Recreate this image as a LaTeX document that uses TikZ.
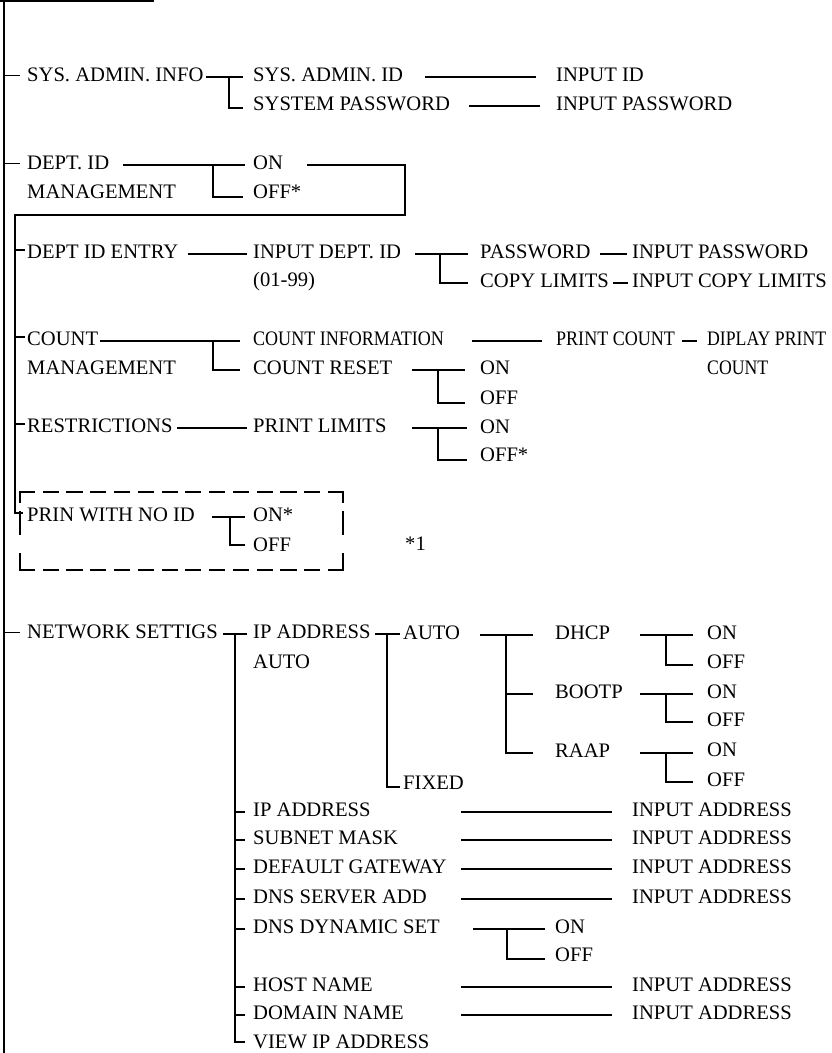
\documentclass[tikz,border=0pt]{standalone}
\usepackage{fontspec}
\setmainfont{Liberation Serif}
\newfontfamily\condfont[FakeStretch=0.875]{Liberation Serif}
\newfontfamily\condfontb[FakeStretch=0.86]{Liberation Serif}
\usetikzlibrary{calc}
\newcommand\hconn[4]{\draw[ln] ($(#2.west|-#1.east)+(-#3,0)$) -- ($(#2.west|-#1.east)+(-#4,0)$);}
\newcommand\elbowc[5]{\draw[ln] ($(#1.west)+(-#3,0)$) |- ($(#2.west)+(-#4,#5)$);}
\begin{document}
\begin{tikzpicture}[x=1pt,y=-1pt,
  ln/.style={line width=1.1pt},
  dbox/.style={line width=2.2pt,line cap=rect},
  txt/.style={anchor=west,inner sep=0pt,text height=11.5pt,text depth=2pt,font=\fontsize{20.6}{24}\selectfont},
  ctxt/.style={txt,font=\condfont\fontsize{20.6}{24}\selectfont},
  cbtxt/.style={txt,font=\condfontb\fontsize{20.6}{24}\selectfont}]
\useasboundingbox (0,0) rectangle (831,1053);
% fixed points
\coordinate (mT) at (4,0);
\coordinate (mB) at (4,1053);
\coordinate (tl) at (0,1);
\coordinate (tr) at (154,1);
\coordinate (lr) at (405,215);
\coordinate (ll) at (15,215);
\coordinate (ax) at (461,0);
% text nodes
\node[txt] (sai) at (27,77) {SYS. ADMIN. INFO};
\node[txt] (sid) at (253,77) {SYS. ADMIN. ID};
\node[txt] (spw) at (253,106) {SYSTEM PASSWORD};
\node[txt] (iid) at (556,77) {INPUT ID};
\node[txt] (ipw) at (556,106) {INPUT PASSWORD};
\node[txt] (dept) at (27,165) {DEPT. ID};
\node[txt] (mgmt) at (27,194) {MANAGEMENT};
\node[txt] (don) at (253,165) {ON};
\node[txt] (doff) at (253,194) {OFF*};
\node[txt] (die) at (27,254) {DEPT ID ENTRY};
\node[txt] (idid) at (253,254) {INPUT DEPT. ID};
\node[txt] (rng) at (253,282) {(01-99)};
\node[txt] (pw) at (480,254) {PASSWORD};
\node[txt] (cl) at (480,283) {COPY LIMITS};
\node[txt] (ipw2) at (632,254) {INPUT PASSWORD};
\node[txt] (icl) at (632,283) {INPUT COPY LIMITS};
\node[txt] (cnt) at (27,341) {COUNT};
\node[txt] (cmg) at (27,370) {MANAGEMENT};
\node[ctxt] (ci) at (253,341) {COUNT INFORMATION};
\node[txt] (cr) at (253,370) {COUNT RESET};
\node[ctxt] (pc) at (556,341) {PRINT COUNT};
\node[cbtxt] (dp) at (707,341) {DIPLAY PRINT};
\node[cbtxt] (dpc) at (707,370) {COUNT};
\node[txt] (cron) at (480,370) {ON};
\node[txt] (croff) at (480,400) {OFF};
\node[txt] (res) at (27,428) {RESTRICTIONS};
\node[txt] (pl) at (253,428) {PRINT LIMITS};
\node[txt] (plon) at (480,429) {ON};
\node[txt] (ploff) at (480,457) {OFF*};
\node[txt] (pwn) at (27,517) {PRIN WITH NO ID};
\node[txt] (pwnon) at (253,517) {ON*};
\node[txt] (pwnoff) at (253,547) {OFF};
\node[txt] (note) at (405,546) {*1};
\node[txt] (net) at (27,634) {NETWORK SETTIGS};
\node[txt] (ipa) at (253,634) {IP ADDRESS};
\node[txt] (ipauto) at (253,664) {AUTO};
\node[txt] (auto) at (403,635) {AUTO};
\node[txt] (fixed) at (403,785) {FIXED};
\node[txt] (dhcp) at (555,635) {DHCP};
\node[txt] (bootp) at (555,694) {BOOTP};
\node[txt] (raap) at (555,753) {RAAP};
\node[txt] (dhon) at (707,635) {ON};
\node[txt] (dhoff) at (707,664) {OFF};
\node[txt] (bton) at (707,694) {ON};
\node[txt] (btoff) at (707,722) {OFF};
\node[txt] (raon) at (707,752) {ON};
\node[txt] (raoff) at (707,782) {OFF};
\node[txt] (ip) at (253,812) {IP ADDRESS};
\node[txt] (iip) at (632,812) {INPUT ADDRESS};
\node[txt] (sub) at (253,840) {SUBNET MASK};
\node[txt] (isub) at (632,840) {INPUT ADDRESS};
\node[txt] (gw) at (253,869) {DEFAULT GATEWAY};
\node[txt] (igw) at (632,869) {INPUT ADDRESS};
\node[txt] (dns) at (253,899) {DNS SERVER ADD};
\node[txt] (idns) at (632,899) {INPUT ADDRESS};
\node[txt] (dyn) at (253,929) {DNS DYNAMIC SET};
\node[txt] (dynon) at (555,929) {ON};
\node[txt] (dynoff) at (555,957) {OFF};
\node[txt] (host) at (253,987) {HOST NAME};
\node[txt] (ihost) at (632,987) {INPUT ADDRESS};
\node[txt] (dom) at (253,1015) {DOMAIN NAME};
\node[txt] (idom) at (632,1015) {INPUT ADDRESS};
\node[txt] (view) at (253,1044) {VIEW IP ADDRESS};
% main lines
\draw[ln] (mT) -- (mB);
\draw[line width=1.6pt] (tl) -- (tr);
\foreach \n in {sai,dept,net}
  \draw[ln] ($(mT|-\n.west)+(0,-1.5)$) -- ($(\n.west)+(-7,-1.5)$);
% sys admin
\hconn{sai}{sid}{47}{10}
\elbowc{sid}{spw}{24}{10}{2}
\hconn{sid}{iid}{131}{20}
\hconn{spw}{ipw}{87}{16}
% dept id management
\hconn{dept}{don}{130}{8}
\elbowc{don}{doff}{40}{10}{3}
\draw[ln] ($(don.west)+(54,0)$) -| (lr) -- (ll) |- ($(pwn.west)+(-4,-4)$);
\foreach \n in {die,cnt,res}
  \draw[ln] ($(ll|-\n.west)+(0,-4)$) -- ($(\n.west)+(-2,-4)$);
% dept id entry
\hconn{die}{idid}{65}{6}
\hconn{idid}{pw}{65}{12}
\elbowc{pw}{cl}{40}{12}{0}
\hconn{pw}{ipw2}{32}{5}
\hconn{cl}{icl}{19}{4}
% count management
\hconn{cnt}{ci}{153}{13}
\elbowc{ci}{cr}{40}{13}{0}
\hconn{ci}{pc}{84}{14}
\hconn{pc}{dp}{25}{10}
\hconn{cr}{cron}{68}{15}
\elbowc{cron}{croff}{42}{15}{3}
% restrictions
\hconn{res}{pl}{76}{6}
\hconn{pl}{plon}{68}{13}
\elbowc{plon}{ploff}{42}{13}{3}
% print with no id
\hconn{pwn}{pwnon}{41}{8}
\elbowc{pwnon}{pwnoff}{23}{8}{-2}
\draw[dbox,dash pattern=on 14pt off 9.77pt] (20,492) -- (343,492);
\draw[dbox,dash pattern=on 14pt off 9.77pt] (20,570) -- (343,570);
\draw[dbox,dash pattern=on 10pt off 10pt on 22pt off 20pt on 16pt off 10pt] (20,492) -- (20,570);
\draw[dbox,dash pattern=on 10pt off 10pt on 22pt off 20pt on 16pt off 10pt] (343,492) -- (343,570);
% network settings
\hconn{net}{ipa}{30}{6}
\elbowc{ipa}{view}{18}{8}{-2}
\foreach \n in {ip,sub,gw,dns,dyn,host,dom}
  \draw[ln] ($(\n.west)+(-18,0)$) -- ($(\n.west)+(-8,0)$);
\hconn{ipa}{auto}{28}{3}
\elbowc{auto}{fixed}{16}{3}{2}
\hconn{auto}{dhcp}{75}{22}
\elbowc{dhcp}{raap}{49}{22}{0}
\draw[ln] ($(bootp.west)+(-49,0)$) -- ($(bootp.west)+(-22,0)$);
\hconn{dhcp}{dhon}{67}{14}
\elbowc{dhon}{dhoff}{41}{14}{1}
\hconn{bootp}{bton}{67}{14}
\elbowc{bton}{btoff}{41}{14}{0}
\hconn{raap}{raon}{67}{14}
\elbowc{raon}{raoff}{41}{14}{0}
\foreach \s/\t in {ip/iip,sub/isub,gw/igw,dns/idns,host/ihost,dom/idom}
  \draw[ln] (ax|-\s.east) -- ($(\t.west)+(-20,0)$);
\hconn{dyn}{dynon}{82}{10}
\elbowc{dynon}{dynoff}{48}{10}{2}
\end{tikzpicture}
\end{document}
